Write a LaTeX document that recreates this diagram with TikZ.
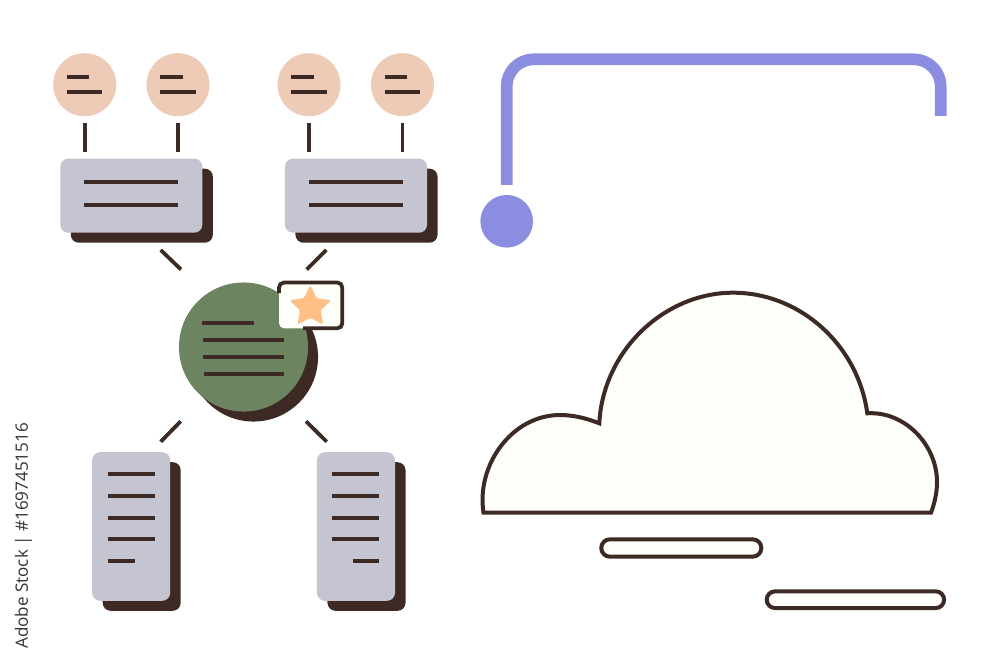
\documentclass[tikz,border=0pt]{standalone}
\usepackage{fontspec}
\usepackage{tikz}
\usetikzlibrary{shapes.geometric, shapes.misc, shadows}
\setsansfont{Open Sans}
\definecolor{inkbrown}{HTML}{3E2A24}
\definecolor{slategrey}{HTML}{C5C5D1}
\definecolor{peach}{HTML}{EDCBB6}
\definecolor{moss}{HTML}{6C8560}
\definecolor{lilac}{HTML}{8B8DE0}
\definecolor{ivory}{HTML}{FEFEFA}
\definecolor{apricot}{HTML}{FFBF85}
\tikzset{
    rulestroke/.style={draw=inkbrown, line width=0.038cm},
    avatar/.style={circle, fill=peach, inner sep=0pt, outer sep=0pt, minimum size=0.63cm},
    card/.style={rectangle, rounded corners=0.08cm, fill=slategrey, inner sep=0pt, outer sep=0pt,
        general shadow={shadow xshift=0.105cm, shadow yshift=-0.1cm, fill=inkbrown}},
    widecard/.style={card, minimum width=1.42cm, minimum height=0.74cm},
    tallcard/.style={card, minimum width=0.78cm, minimum height=1.485cm},
    bar/.style={rounded rectangle, draw=inkbrown, line width=0.04cm, fill=ivory, inner sep=0pt, outer sep=0pt}
}

\begin{document}
\begin{tikzpicture}[x=0.01cm, y=-0.01cm]
    \useasboundingbox (0,0) rectangle (1000,664);
    % Circulos de cima
    \node[avatar] (p1) at (84.7,84.7) {};
    \node[avatar] (p2) at (178,84.7) {};
    \node[avatar] (p3) at (309,84.7) {};
    \node[avatar] (p4) at (402.5,84.7) {};
    \foreach \cx in {84.7,178,309,402.5} {
        \draw[rulestroke] (\cx-17.7,77) -- (\cx+4.6,77);
        \draw[rulestroke] (\cx-17.7,92.3) -- (\cx+17.7,92.3);
    }
    % Cartoes largos
    \node[widecard] (b1) at (131.3,195.7) {};
    \node[widecard] (b2) at (356,195.7) {};
    \foreach \cx in {131.3,356} {
        \draw[rulestroke] (\cx-47,182) -- (\cx+47,182);
        \draw[rulestroke] (\cx-47,204.7) -- (\cx+47,204.7);
    }
    \draw[rulestroke, shorten <=0.065cm, shorten >=0.065cm] (p1.south) -- (p1.south |- b1.north);
    \draw[rulestroke, shorten <=0.065cm, shorten >=0.065cm] (p2.south) -- (p2.south |- b1.north);
    \draw[rulestroke, shorten <=0.065cm, shorten >=0.065cm] (p3.south) -- (p3.south |- b2.north);
    \draw[rulestroke, shorten <=0.065cm, shorten >=0.065cm] (p4.south) -- (p4.south |- b2.north);
    % Circulo central
    \node[circle, fill=moss, inner sep=0pt, outer sep=0pt, minimum size=1.29cm,
        general shadow={shadow xshift=0.1cm, shadow yshift=-0.1cm, fill=inkbrown}] (hub) at (243.5,347) {};
    \draw[rulestroke] (202.3,322.7) -- (254,322.7);
    \draw[rulestroke] (203,340) -- (283.7,340);
    \draw[rulestroke] (203,357) -- (284,357);
    \draw[rulestroke] (204,374) -- (284,374);
    % Selo com estrela
    \fill[ivory, rounded corners=0.05cm] (279,282.5) rectangle (342.3,328.3);
    \draw[rulestroke, rounded corners=0.05cm] (279,293) -- (279,282.5) -- (342.3,282.5) -- (342.3,328.3) -- (303,328.3);
    \node[star, star points=5, star point ratio=2.05, fill=apricot, rounded corners=0.025cm,
        inner sep=0pt, minimum size=0.44cm] (badge) at (310.3,307) {};
    % Cartoes altos
    \node[tallcard] (d1) at (131.2,526.5) {};
    \node[tallcard] (d2) at (356,526.5) {};
    \foreach \ly in {474.3,496,517.7,539.3} {
        \draw[rulestroke] (107.7,\ly) -- (155,\ly);
        \draw[rulestroke] (332.3,\ly) -- (379.3,\ly);
    }
    \draw[rulestroke] (107.7,561) -- (134.7,561);
    \draw[rulestroke] (352.7,561) -- (379.3,561);
    % Tracos diagonais
    \coordinate (t1) at (160.7,250);
    \coordinate (h1) at (181,269.5);
    \coordinate (t2) at (326.3,250);
    \coordinate (h2) at (306.7,269.5);
    \coordinate (t3) at (160.7,441.7);
    \coordinate (h3) at (180.7,421.3);
    \coordinate (t4) at (326.7,441.7);
    \coordinate (h4) at (306,421.3);
    \draw[rulestroke] (t1) -- (h1);
    \draw[rulestroke] (t2) -- (h2);
    \draw[rulestroke] (t3) -- (h3);
    \draw[rulestroke] (t4) -- (h4);
    % Linha lilas
    \node[circle, fill=lilac, inner sep=0pt, outer sep=0pt, minimum size=0.526cm] (dot) at (506.7,221.3) {};
    \coordinate (bend) at (940.7,59.3);
    \coordinate (routeEnd) at (940.7,116);
    \draw[lilac, line width=0.117cm, rounded corners=0.27cm, shorten <=0.1cm] (dot.north) |- (bend) -- (routeEnd);
    % Nuvem
    \draw[draw=inkbrown, line width=0.04cm, fill=ivory]
        (483.5,512.7) .. controls (476,465) and (512,415) .. (560,415)
        .. controls (575,415) and (588,419) .. (599.3,423.3)
        .. controls (603,350) and (665,292.7) .. (733,292.7)
        .. controls (800,292.7) and (858,345) .. (867.3,413.3)
        .. controls (905,411) and (937,445) .. (937,482)
        .. controls (937,492) and (935,502) .. (931,512.7) -- cycle;
    \node[bar, minimum width=1.6cm, minimum height=0.174cm] (bar1) at (681.3,548) {};
    \node[bar, minimum width=1.773cm, minimum height=0.167cm] (bar2) at (855.4,599.7) {};
    % Texto lateral
    \node[rotate=90, inner sep=0pt, text=black!80, font=\sffamily\fontsize{4.85pt}{5pt}\selectfont] (stamp) at (23.5,536) {Adobe Stock | \#1697451516};
\end{tikzpicture}
\end{document}
